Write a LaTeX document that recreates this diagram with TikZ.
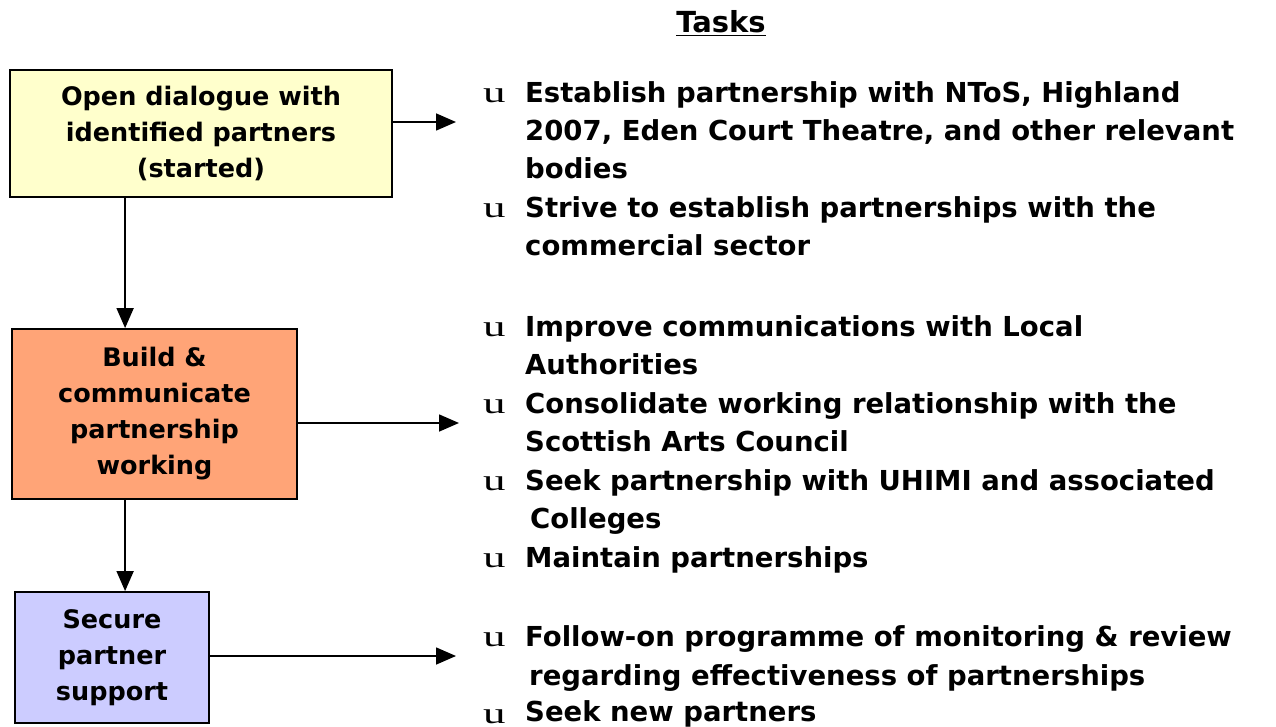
\documentclass[tikz,border=0pt]{standalone}
\usepackage{fontspec}
\setmainfont{DejaVu Sans}
\newfontfamily\bulletfont{Liberation Serif}
\usetikzlibrary{arrows.meta,calc}
\definecolor{boxyellow}{HTML}{FFFFCC}
\definecolor{boxorange}{HTML}{FFA477}
\definecolor{boxblue}{HTML}{CCCCFF}
\newcommand{\bulletu}{\scalebox{1.5}[1]{u}}
\begin{document}
\begin{tikzpicture}[x=1pt,y=-1pt,
  stagebox/.style={draw=black,line width=1.8pt,align=center,inner sep=0pt,
    font=\bfseries\fontsize{25.5}{36}\selectfont},
  arr/.style={line width=1.6pt,-{Triangle[length=20pt,width=17pt]}},
  bul/.style={anchor=base west,inner sep=0pt,font=\bulletfont\fontsize{30}{38}\selectfont},
  task/.style={anchor=base west,inner sep=0pt,
    font=\bfseries\fontsize{27.5}{38.5}\selectfont}]
\useasboundingbox[fill=white] (0,0) rectangle (1276,727);

% heading
\node[anchor=base,font=\bfseries\fontsize{29}{30}\selectfont] (head) at (721,33) {\underline{Tasks}};

% stage boxes
\node[stagebox,fill=boxyellow,minimum width=382pt,minimum height=127pt] (b1) at (201,133.5)
  {Open dialogue with\\identified partners\\(started)};
\node[stagebox,fill=boxorange,minimum width=285pt,minimum height=170pt] (b2) at (154.5,414)
  {Build \&\\communicate\\partnership\\working};
\node[stagebox,fill=boxblue,minimum width=194pt,minimum height=131pt] (b3) at (112,657.5)
  {Secure\\partner\\support};

% flow between stages
\path (b1.south west) ++(116,0) coordinate (v1);
\draw[arr] (v1) -- (v1 |- b2.north);
\path (b2.south west) ++(114,0) coordinate (v2);
\draw[arr] (v2) -- (v2 |- b3.north);

% arrows to task lists
\path (b1.east) ++(0,-11.5) coordinate (h1s);
\coordinate (h1e) at (456,122);
\draw[arr] (h1s) -- (h1e);
\path (b2.east) ++(0,9) coordinate (h2s);
\coordinate (h2e) at (459,423);
\draw[arr] (h2s) -- (h2e);
\path (b3.east) ++(0,-1.5) coordinate (h3s);
\coordinate (h3e) at (456,656);
\draw[arr] (h3s) -- (h3e);

% task bullets
\node[bul] (u1) at (483,103) {\bulletu};
\node[bul] (u2) at (483,218) {\bulletu};
\node[bul] (u3) at (483,336) {\bulletu};
\node[bul] (u4) at (483,413) {\bulletu};
\node[bul] (u5) at (483,490) {\bulletu};
\node[bul] (u6) at (483,567) {\bulletu};
\node[bul] (u7) at (483,646) {\bulletu};
\node[bul] (u8) at (483,723) {\bulletu};

% task texts, one node per printed line
\node[task] (t1a) at (525,103) {Establish partnership with NToS, Highland};
\node[task] (t1b) at (525,141) {2007, Eden Court Theatre, and other relevant};
\node[task] (t1c) at (525,179) {bodies};
\node[task] (t2a) at (525,218) {Strive to establish partnerships with the};
\node[task] (t2b) at (525,256) {commercial sector};
\node[task] (t3a) at (525,336) {Improve communications with Local};
\node[task] (t3b) at (525,374) {Authorities};
\node[task] (t4a) at (525,413) {Consolidate working relationship with the};
\node[task] (t4b) at (525,451) {Scottish Arts Council};
\node[task] (t5a) at (525,490) {Seek partnership with UHIMI and associated};
\node[task] (t5b) at (530,528) {Colleges};
\node[task] (t6a) at (525,567) {Maintain partnerships};
\node[task] (t7a) at (525,646) {Follow-on programme of monitoring \& review};
\node[task] (t7b) at (529,685) {regarding effectiveness of partnerships};
\node[task] (t8a) at (525,721) {Seek new partners};
\end{tikzpicture}
\end{document}
